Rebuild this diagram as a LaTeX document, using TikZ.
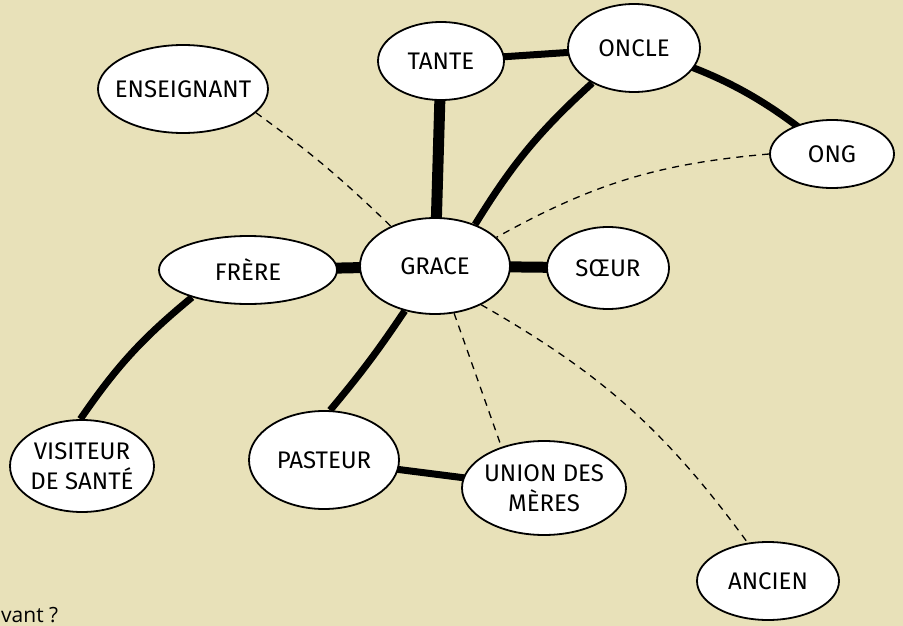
\documentclass[tikz,border=0pt]{standalone}
\usepackage{fontspec}
\setmainfont{Fira Sans}
\newfontfamily\notefont{Open Sans}
\usetikzlibrary{shapes.geometric}
\pgfdeclarelayer{bg}
\pgfdeclarelayer{paperlayer}
\pgfsetlayers{paperlayer,bg,main}
\definecolor{paper}{HTML}{E8E1B9}
\newcommand{\bt}[1]{\raisebox{-3pt}[\height][\depth]{\makebox[0pt]{\begin{tabular}{@{}c@{}}#1\end{tabular}}}}
\tikzset{
  bubble/.style={ellipse, draw=black, line width=1.8pt, fill=white, inner sep=0pt,
    font=\fontsize{24}{26}\selectfont},
  tie/.style={line width=7pt, draw=black},
  bigtie/.style={line width=11pt, draw=black},
  weak/.style={line width=1.3pt, dash pattern=on 7pt off 6pt, draw=black}
}
\begin{document}
\begin{tikzpicture}[x=1pt,y=-1pt]
\begin{pgfonlayer}{paperlayer}
\fill[paper] (0,0) rectangle (903,626);
\end{pgfonlayer}
\useasboundingbox (0,0) rectangle (903,626);
\node[bubble, minimum width=126, minimum height=78] (tante) at (441,61) {\bt{TANTE}};
\node[bubble, minimum width=132, minimum height=88] (oncle) at (634,48) {\bt{ONCLE}};
\node[bubble, minimum width=170, minimum height=88] (ens) at (183,89) {\bt{ENSEIGNANT}};
\node[bubble, minimum width=124, minimum height=68] (ong) at (832,154) {\bt{ONG}};
\node[bubble, minimum width=150, minimum height=96] (grace) at (435,266) {\bt{GRACE}};
\node[bubble, minimum width=178, minimum height=68] (frere) at (248,270) {\bt{FRÈRE}};
\node[bubble, minimum width=122, minimum height=82] (soeur) at (608,268) {\bt{SŒUR}};
\node[bubble, minimum width=144, minimum height=92] (visit) at (82,466) {\bt{VISITEUR\\DE SANTÉ}};
\node[bubble, minimum width=150, minimum height=98] (past) at (324,460) {\bt{PASTEUR}};
\node[bubble, minimum width=164, minimum height=94] (union) at (544,488) {\bt{UNION DES\\MÈRES}};
\node[bubble, minimum width=142, minimum height=78] (anc) at (768,581) {\bt{ANCIEN}};
\node[anchor=south west, inner sep=0pt, font=\notefont\fontsize{21}{23}\selectfont] (q) at (1,623) {vant ?};
\begin{pgfonlayer}{bg}
\draw[bigtie] (tante.center) -- (grace.center);
\draw[tie] (tante.center) -- (oncle.center);
\draw[tie] (oncle.center) to[bend left=12] (ong.center);
\draw[tie] (oncle.220) to[bend right=8] (grace.46);
\draw[weak] (ong.180) to[bend right=12] (grace.25);
\draw[weak] (ens.-18) to[bend left=4] (grace.138);
\draw[bigtie] (frere.center) -- (grace.center);
\draw[bigtie] (grace.center) -- (soeur.center);
\draw[tie] (frere.206) to[bend right=8] (visit.92);
\draw[tie] (grace.236) to[bend left=3] (past.83);
\draw[tie] (past.center) -- (union.center);
\draw[weak] (grace.-68) -- (union.136);
\draw[weak] (grace.-40) to[bend left=12] (anc.118);
\end{pgfonlayer}
\end{tikzpicture}
\end{document}
